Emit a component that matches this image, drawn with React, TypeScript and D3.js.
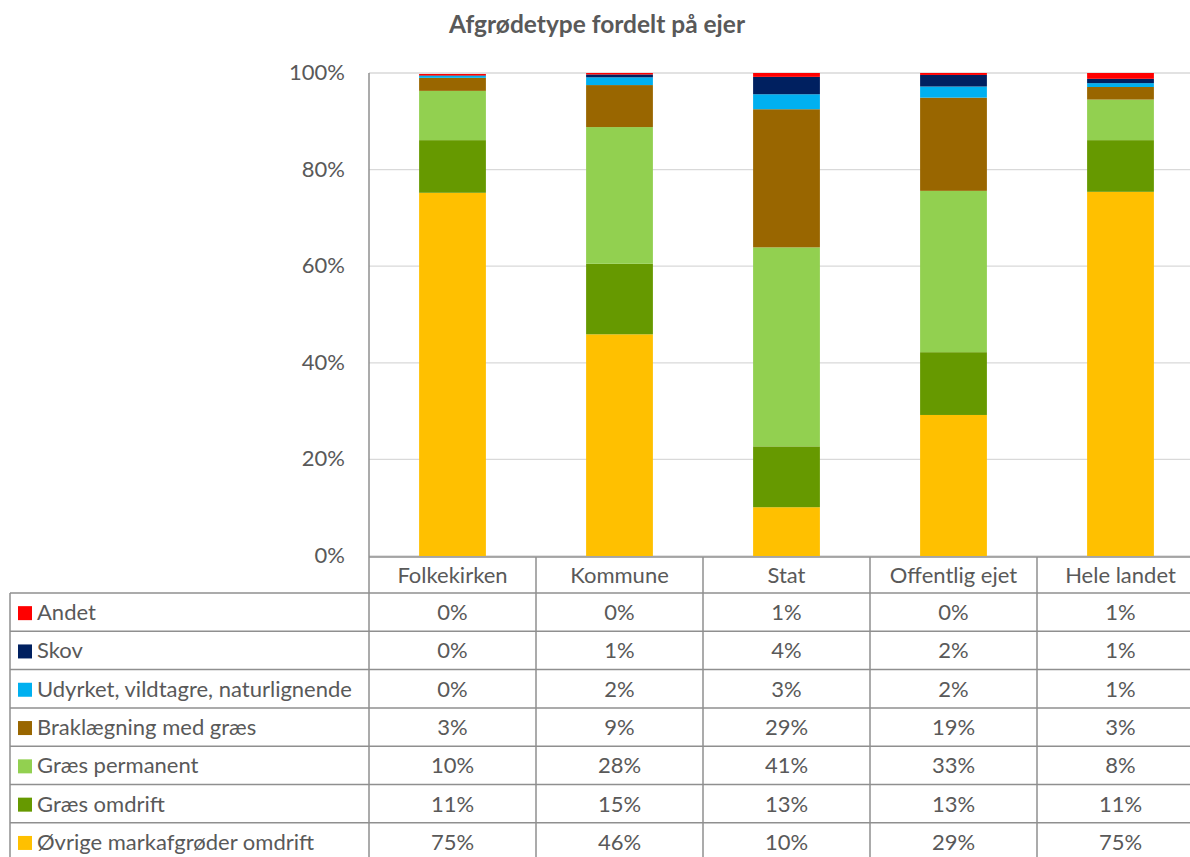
import React from "react";
import * as d3 from "d3";

const title = "Afgrødetype fordelt på ejer";
const categories = ["Folkekirken", "Kommune", "Stat", "Offentlig ejet", "Hele landet"];
// series listed bottom -> top
const seriesNames = [
  "Øvrige markafgrøder omdrift",
  "Græs omdrift",
  "Græs permanent",
  "Braklægning med græs",
  "Udyrket, vildtagre, naturlignende",
  "Skov",
  "Andet",
];
const seriesColors = ["#FFC000", "#669900", "#92D050", "#996600", "#00B0F0", "#002060", "#FF0000"];
const ovrige = [0.752, 0.459, 0.101, 0.292, 0.754];
const graesOmdrift = [0.109, 0.146, 0.126, 0.13, 0.107];
const graesPermanent = [0.102, 0.283, 0.412, 0.334, 0.084];
const braklaegning = [0.027, 0.087, 0.286, 0.193, 0.026];
const udyrket = [0.004, 0.016, 0.031, 0.023, 0.008];
const skov = [0.001, 0.006, 0.036, 0.024, 0.009];
const andet = [0.003, 0.003, 0.008, 0.004, 0.012];
const seriesValues = [ovrige, graesOmdrift, graesPermanent, braklaegning, udyrket, skov, andet];
const yTicks = [0, 0.2, 0.4, 0.6, 0.8, 1];

export default function App() {
  const W = 1190, H = 857;
  const plotLeft = 369, cellW = 167;
  const plotTop = 73, plotBottom = 556;
  const x = d3.scaleBand<string>().domain(categories).range([plotLeft, plotLeft + cellW * categories.length]).paddingInner(0.6).paddingOuter(0.3);
  const y = d3.scaleLinear().domain([0, 1]).range([plotBottom, plotTop]);
  const rows = categories.map((c, i) => {
    const o: any = { cat: c };
    seriesNames.forEach((s, k) => (o[s] = seriesValues[k][i]));
    return o;
  });
  const stacked = d3.stack<any>().keys(seriesNames)(rows);
  const pct = d3.format(".0%");
  const font = "Lato, 'Open Sans', sans-serif";
  const textColor = "#595959";
  const lineColor = "#8F8F8F";
  const fs = 22;
  const headerTop = 557, headerBottom = 593;
  const rowH = 38.3;
  const legendLeft = 10;
  // table rows top->bottom: reverse order of series
  const tableOrder = seriesNames.map((_, k) => seriesNames.length - 1 - k);
  const tableRight = W + 20;

  return (
    <svg width={W} height={H} style={{ position: "absolute", left: 0, top: 0, background: "#fff" }} fontFamily={font}>
      <text x={597} y={33} textAnchor="middle" fontSize={24.5} fontWeight="bold" fill={textColor}>{title}</text>
      {yTicks.map((t) => (
        <g key={t}>
          <line x1={plotLeft} x2={tableRight} y1={y(t)} y2={y(t)} stroke="#D9D9D9" strokeWidth={1.3} />
          <text x={345} y={y(t) + 7} textAnchor="end" fontSize={fs} fill={textColor}>{pct(t)}</text>
        </g>
      ))}
      {stacked.map((layer, k) => (
        <g key={layer.key} fill={seriesColors[k]}>
          {layer.map((d, i) => (
            <rect key={i} x={x(categories[i])} width={x.bandwidth()} y={y(d[1])} height={Math.max(0, y(d[0]) - y(d[1]))} />
          ))}
        </g>
      ))}
      {/* axis line */}
      <line x1={plotLeft} x2={plotLeft} y1={plotTop} y2={headerTop} stroke={lineColor} strokeWidth={1.5} />
      {/* header row */}
      <line x1={plotLeft} x2={tableRight} y1={headerTop} y2={headerTop} stroke={lineColor} strokeWidth={1.5} />
      {categories.map((c, i) => (
        <text key={c} x={plotLeft + cellW * (i + 0.5)} y={headerTop + 26} textAnchor="middle" fontSize={fs} fill={textColor}>{c}</text>
      ))}
      {/* data rows */}
      {tableOrder.map((k, r) => {
        const top = headerBottom + r * rowH;
        return (
          <g key={seriesNames[k]}>
            <line x1={legendLeft} x2={tableRight} y1={top} y2={top} stroke={lineColor} strokeWidth={1.5} />
            <rect x={18} y={top + rowH / 2 - 6} width={14} height={14} fill={seriesColors[k]} />
            <text x={37} y={top + rowH / 2 + 8} fontSize={fs} fill={textColor}>{seriesNames[k]}</text>
            {categories.map((c, i) => (
              <text key={c} x={plotLeft + cellW * (i + 0.5)} y={top + rowH / 2 + 8} textAnchor="middle" fontSize={fs} fill={textColor}>{pct(seriesValues[k][i])}</text>
            ))}
          </g>
        );
      })}
      <line x1={legendLeft} x2={legendLeft} y1={headerBottom} y2={H + 5} stroke={lineColor} strokeWidth={1.5} />
      {categories.map((c, i) => (
        <line key={c} x1={plotLeft + cellW * i} x2={plotLeft + cellW * i} y1={headerTop} y2={H + 5} stroke={lineColor} strokeWidth={1.5} />
      ))}
    </svg>
  );
}
